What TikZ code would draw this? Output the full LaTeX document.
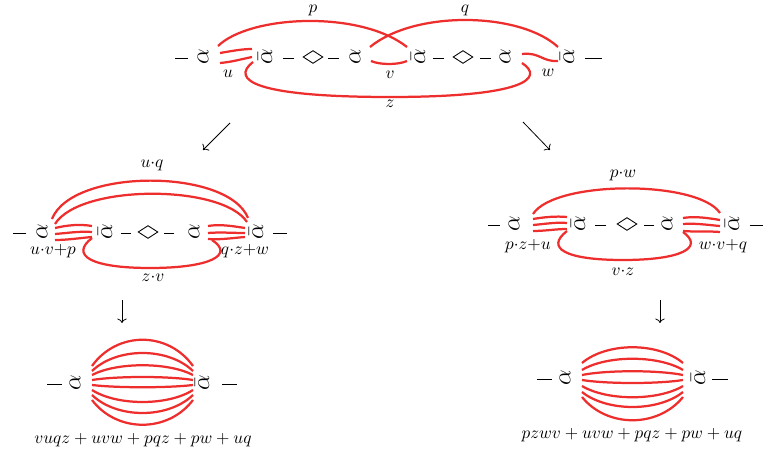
\documentclass[tikz,border=0pt]{standalone}
\usetikzlibrary{shapes.geometric,arrows.meta}
\definecolor{strand}{RGB}{238,45,45}
\begin{document}
\begin{tikzpicture}[x=0.58pt,y=-0.58pt,
  strandl/.style={draw=strand,line width=1.3pt},
  sym/.style={inner sep=0pt,rotate=90,font=\Large},
  dia/.style={draw,shape=diamond,inner sep=0pt,minimum width=11.5pt,minimum height=7.5pt,line width=0.5pt},
  dashl/.style={line width=0.5pt},
  lab/.style={inner sep=0pt},
  arr/.style={-{To},line width=0.45pt}]
\useasboundingbox (0,0) rectangle (763,456);

% ---------------- top diagram ----------------
\node[sym] (ta1) at (203,57) {$\alpha$};
\node[sym] (tb1) at (265,57) {$\bar\alpha$};
\node[dia] (td1) at (313,57) {};
\node[sym] (ta2) at (355,57) {$\alpha$};
\node[sym] (tb2) at (418,57) {$\bar\alpha$};
\node[dia] (td2) at (463,57) {};
\node[sym] (ta3) at (505,57) {$\alpha$};
\node[sym] (tb3) at (567,57) {$\bar\alpha$};
\draw[dashl] (175,58) -- (188,58);
\draw[dashl] (283,58) -- (294,58);
\draw[dashl] (328,58) -- (339,58);
\draw[dashl] (433,58) -- (444,58);
\draw[dashl] (480,58) -- (491,58);
\draw[dashl] (585,58) -- (602,58);
\draw[strandl] (218,46) .. controls (250,15) and (360,10) .. (407,47);
\draw[strandl] (370,47) .. controls (415,10) and (520,12) .. (558,47);
\draw[strandl] (220,53) .. controls (232,51) and (242,49) .. (252,49);
\draw[strandl] (220,63) .. controls (232,62) and (242,59) .. (252,57);
\draw[strandl] (371,61) .. controls (380,65) and (398,65) .. (407,61);
\draw[strandl] (522,54) .. controls (540,52) and (542,62) .. (558,61);
\draw[strandl] (253,62) .. controls (230,80) and (255,97) .. (390,97)
                     .. controls (525,97) and (545,78) .. (522,63);
\node[lab] (lp) at (313,10) {$p$};
\node[lab] (lq) at (465,10) {$q$};
\node[lab] (lu) at (228,74) {$u$};
\node[lab] (lv) at (390,75) {$v$};
\node[lab] (lw) at (548,73) {$w$};
\node[lab] (lz) at (390,104) {$z$};

% arrows
\coordinate (r1s) at (230,123); \coordinate (r1e) at (203,150);
\coordinate (r2s) at (523,122); \coordinate (r2e) at (550,150);
\coordinate (r3s) at (122,300); \coordinate (r3e) at (122,323);
\coordinate (r4s) at (660,300); \coordinate (r4e) at (660,323);
\draw[arr] (r1s) -- (r1e);
\draw[arr] (r2s) -- (r2e);
\draw[arr] (r3s) -- (r3e);
\draw[arr] (r4s) -- (r4e);

% ---------------- middle left ----------------
\node[sym] (la1) at (42,232) {$\alpha$};
\node[sym] (lb1) at (105,232) {$\bar\alpha$};
\node[dia] (ld1) at (148,232) {};
\node[sym] (la2) at (194,232) {$\alpha$};
\node[sym] (lb2) at (256,232) {$\bar\alpha$};
\draw[dashl] (13,233) -- (26,233);
\draw[dashl] (121,233) -- (131,233);
\draw[dashl] (164,233) -- (174,233);
\draw[dashl] (273,233) -- (287,233);
\draw[strandl] (52,219) .. controls (72,168) and (228,168) .. (248,218);
\draw[strandl] (55,224) .. controls (80,184) and (222,184) .. (247,222);
\draw[strandl] (55,228) .. controls (68,225) and (80,224) .. (92,226);
\draw[strandl] (55,234) .. controls (68,233) and (80,231) .. (92,232);
\draw[strandl] (55,240) .. controls (68,240) and (80,238) .. (92,237);
\draw[strandl] (92,238) .. controls (70,255) and (90,268) .. (150,268)
                     .. controls (210,268) and (235,255) .. (212,240);
\draw[strandl] (208,226) .. controls (220,224) and (232,226) .. (245,228);
\draw[strandl] (208,233) .. controls (220,232) and (232,233) .. (245,233);
\draw[strandl] (208,239) .. controls (220,240) and (232,238) .. (245,237);
\node[lab] (luq) at (152,165) {$u{\cdot}q$};
\node[lab] (luvp) at (53,251) {$u{\cdot}v{+}p$};
\node[lab] (lqzw) at (245,251) {$q{\cdot}z{+}w$};
\node[lab] (lzv) at (153,278) {$z{\cdot}v$};

% ---------------- middle right ----------------
\node[sym] (ra1) at (514,224) {$\alpha$};
\node[sym] (rb1) at (578,224) {$\bar\alpha$};
\node[dia] (rd1) at (627,224) {};
\node[sym] (ra2) at (667,224) {$\alpha$};
\node[sym] (rb2) at (732,224) {$\bar\alpha$};
\draw[dashl] (488,225) -- (500,225);
\draw[dashl] (595,225) -- (606,225);
\draw[dashl] (644,225) -- (654,225);
\draw[dashl] (750,225) -- (763,225);
\draw[strandl] (533,214) .. controls (555,180) and (698,180) .. (720,213);
\draw[strandl] (533,219) .. controls (545,217) and (556,216) .. (567,217);
\draw[strandl] (533,225) .. controls (545,224) and (556,222) .. (567,223);
\draw[strandl] (533,231) .. controls (545,231) and (556,229) .. (567,229);
\draw[strandl] (567,231) .. controls (545,248) and (565,260) .. (623,260)
                     .. controls (680,260) and (705,248) .. (683,232);
\draw[strandl] (683,218) .. controls (695,216) and (708,218) .. (720,220);
\draw[strandl] (683,224) .. controls (695,223) and (708,225) .. (720,226);
\draw[strandl] (683,231) .. controls (695,232) and (708,231) .. (720,232);
\node[lab] (lpw) at (623,175) {$p{\cdot}w$};
\node[lab] (lpzu) at (528,246) {$p{\cdot}z{+}u$};
\node[lab] (lwvq) at (723,246) {$w{\cdot}v{+}q$};
\node[lab] (lvz) at (623,272) {$v{\cdot}z$};

% ---------------- bottom left ----------------
\node[sym] (ba1) at (75,383) {$\alpha$};
\node[sym] (bb1) at (202,383) {$\bar\alpha$};
\draw[dashl] (47,384) -- (62,384);
\draw[dashl] (222,384) -- (237,384);
\foreach \e/\c in {366/331, 371/347, 375/362, 380/376, 385/388, 390/406, 395/419, 400/433}
  \draw[strandl] (92,\e) .. controls (117,\c) and (168,\c) .. (193,\e);
\node[lab] (lbl) at (143,440) {$vuqz+uvw+pqz+pw+uq$};

% ---------------- bottom right ----------------
\node[sym] (ca1) at (565,378) {$\alpha$};
\node[sym] (cb1) at (698,378) {$\bar\alpha$};
\draw[dashl] (537,379) -- (552,379);
\draw[dashl] (712,379) -- (728,379);
\foreach \e/\c in {363/342, 370/355, 375/370, 380/384, 386/401, 392/412, 397/428}
  \draw[strandl] (582,\e) .. controls (607,\c) and (658,\c) .. (683,\e);
\node[lab] (lbr) at (632,435) {$pzwv+uvw+pqz+pw+uq$};
\end{tikzpicture}
\end{document}
